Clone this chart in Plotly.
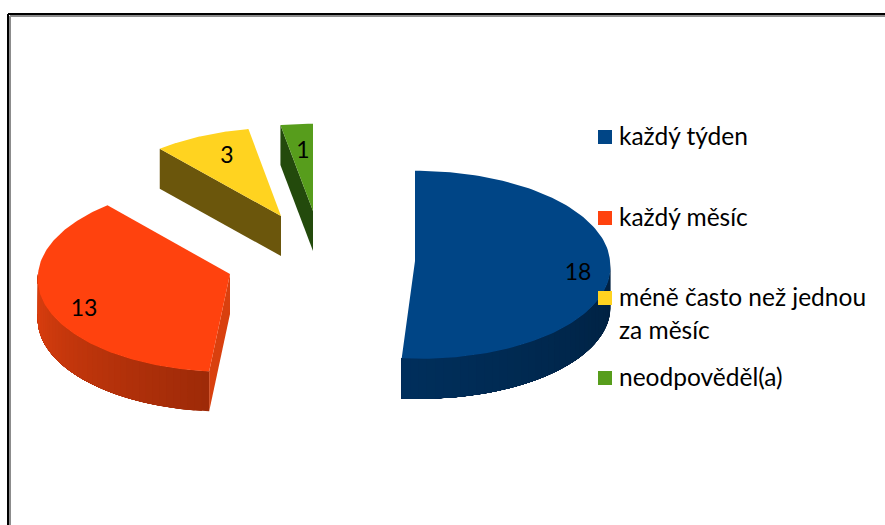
import math
import plotly.graph_objects as go

categories = ["každý týden", "každý měsíc", "méně často než jednou za měsíc", "neodpověděl(a)"]
values = [18, 13, 3, 1]
legend_lines = [["každý týden"], ["každý měsíc"], ["méně často než jednou", "za měsíc"], ["neodpověděl(a)"]]
top_colors = ["#004586", "#ff420e", "#ffd320", "#579d1c"]
wall_from = ["#002f5c", "#e0400f", "#6b560c", "#234a0c"]
wall_to = ["#00203f", "#9d2a08", "#6b560c", "#234a0c"]
cut_colors = ["#00203f", "#d9400e", "#6b560c", "#234a0c"]
apex_x = [415, 230, 281, 313]
apex_y = [261, 274, 216, 211]
radius_x = [195, 192, 190, 190]
radius_y = [94, 94, 92, 91]
front_skew = [0.05, -0.03, 0, 0]
label_x = [578, 84, 227, 303]
label_y = [274, 310, 157, 152]
legend_y = [137, 218, 298, 378]
legend_text_dy = 2
legend_line_gap = 33

DEPTH, PERSP = 40, 0.04
FONT = "Lato"


def rim(i, deg):
    t = math.radians(deg)
    f = 1 - PERSP * math.cos(t)
    dy = radius_y[i] * f * -math.cos(t)
    dx = radius_x[i] * f * math.sin(t) + front_skew[i] * max(dy, 0)
    return apex_x[i] + dx, apex_y[i] + dy


def hex_rgb(c):
    return [int(c[k:k + 2], 16) for k in (1, 3, 5)]


def mix(a, b, u):
    ca, cb = hex_rgb(a), hex_rgb(b)
    return "rgb(%d,%d,%d)" % tuple(round(x + (y - x) * u) for x, y in zip(ca, cb))


def poly(fig, xs, ys, color):
    fig.add_trace(go.Scatter(x=list(xs) + [xs[0]], y=list(ys) + [ys[0]], mode="lines", fill="toself",
                             fillcolor=color, line=dict(color=color, width=0),
                             hoverinfo="skip", showlegend=False))


total = sum(values)
starts, a = [], 0.0
for v in values:
    starts.append(a)
    a += v / total * 360

fig = go.Figure()
for i in [3, 2, 1, 0]:
    a0, a1 = starts[i], starts[i] + values[i] / total * 360
    # visible cut face: the one at the start angle of the three smaller slices
    if i > 0:
        x, y = rim(i, a0)
        poly(fig, [apex_x[i], x, x, apex_x[i]],
             [apex_y[i], y, y + DEPTH, apex_y[i] + DEPTH], cut_colors[i])
    # outer wall (front half only): overlapping strips painted towards the far end
    lo, hi = max(a0, 90), min(a1, 270)
    if hi > lo:
        n = 40
        for k in range(n):
            u = (k + 0.5) / n
            if i == 1:
                angs = [hi - (hi - lo) * (j / 40) * (1 - k / n) for j in range(41)]
                c = mix(wall_from[i], wall_to[i], 1 - u)
            else:
                angs = [lo + (hi - lo) * (k / n + (1 - k / n) * j / 40) for j in range(41)]
                c = mix(wall_to[i], wall_from[i], u)
            pts = [rim(i, d) for d in angs]
            poly(fig, [p[0] for p in pts] + [p[0] for p in reversed(pts)],
                 [p[1] for p in pts] + [p[1] + DEPTH for p in reversed(pts)], c)
    # top face
    pts = [rim(i, a0 + (a1 - a0) * k / 120) for k in range(121)]
    poly(fig, [apex_x[i]] + [p[0] for p in pts], [apex_y[i]] + [p[1] for p in pts], top_colors[i])

fig.add_trace(go.Scatter(x=label_x, y=label_y, mode="text", text=[str(v) for v in values],
                         textfont=dict(family=FONT, size=23, color="#000000"),
                         textposition="middle center", hoverinfo="skip", showlegend=False))

fig.add_trace(go.Scatter(x=[605] * 4, y=legend_y, mode="markers",
                         marker=dict(symbol="square", size=14, color=top_colors),
                         hoverinfo="skip", showlegend=False))
tx, ty, tt = [], [], []
for y, lines in zip(legend_y, legend_lines):
    for j, s in enumerate(lines):
        tx.append(619)
        ty.append(y + legend_text_dy + j * legend_line_gap)
        tt.append(s)
fig.add_trace(go.Scatter(x=tx, y=ty, mode="text", text=tt, textposition="middle right",
                         textfont=dict(family=FONT, size=24.5, color="#000000"),
                         hoverinfo="skip", showlegend=False))

frame = [("#000000", 8, 14), ("#8c8c8c", 10, 16)]
for color, fx, fy in frame:
    fig.add_shape(type="line", x0=fx, x1=fx, y0=fy, y1=525, line=dict(color=color, width=2), layer="above")
    fig.add_shape(type="line", x0=fx, x1=885, y0=fy, y1=fy, line=dict(color=color, width=2), layer="above")

fig.update_layout(width=885, height=525, margin=dict(l=0, r=0, t=0, b=0),
                  paper_bgcolor="white", plot_bgcolor="white", showlegend=False,
                  xaxis=dict(range=[0, 885], visible=False, fixedrange=True),
                  yaxis=dict(range=[525, 0], visible=False, fixedrange=True))
fig.write_html("out.html", config={"displayModeBar": False},
               post_script="document.body.style.margin='0';document.body.style.overflow='hidden';")
